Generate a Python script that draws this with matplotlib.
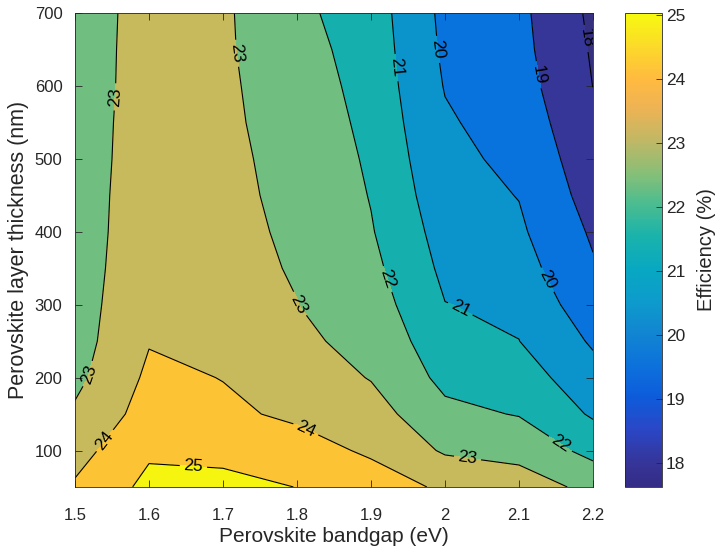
import numpy as np
import matplotlib
matplotlib.use("Agg")
import matplotlib.pyplot as plt
from matplotlib.colors import LinearSegmentedColormap, Normalize
from matplotlib.cm import ScalarMappable
from matplotlib.ticker import FormatStrFormatter

plt.rcParams['font.family'] = ['Liberation Sans', 'DejaVu Sans']

# perovskite bandgap (eV) and layer thickness (nm) grid
bandgap = [1.5, 1.6, 1.7, 1.8, 1.9, 2.0, 2.1, 2.2]
thickness = [50, 100, 150, 200, 250, 300, 350, 400, 450, 500, 550, 600, 650, 700]

# efficiency (%), one row per thickness
efficiency = [
    [24.12, 25.25, 25.20, 24.99, 24.40, 23.87, 23.47, 22.75],
    [23.63, 24.86, 24.81, 24.33, 23.88, 22.88, 22.69, 21.70],
    [23.15, 24.40, 24.15, 23.86, 23.42, 22.24, 21.95, 20.88],
    [22.75, 24.18, 23.98, 23.57, 22.95, 21.75, 21.49, 20.35],
    [22.59, 23.95, 23.65, 23.19, 22.70, 21.40, 21.01, 19.88],
    [22.52, 23.85, 23.30, 23.01, 22.50, 21.02, 20.83, 19.35],
    [22.44, 23.80, 23.20, 22.95, 22.26, 20.79, 20.40, 19.10],
    [22.39, 23.75, 23.12, 22.93, 22.07, 20.60, 20.15, 18.87],
    [22.38, 23.70, 23.05, 22.95, 21.95, 20.39, 19.97, 18.60],
    [22.35, 23.65, 23.07, 22.90, 21.83, 20.23, 19.79, 18.38],
    [22.35, 23.60, 23.09, 22.80, 21.69, 20.12, 19.54, 18.25],
    [22.33, 23.55, 23.14, 22.57, 21.62, 19.95, 19.41, 17.99],
    [22.36, 23.50, 23.13, 22.40, 21.55, 19.83, 19.29, 17.90],
    [22.38, 23.45, 23.14, 22.23, 21.48, 19.76, 19.23, 17.80],
]

line_levels = [18, 19, 20, 21, 22, 23, 24, 25]
cbar_ticks = [18, 19, 20, 21, 22, 23, 24, 25]

# parula-like colours, as they appear in the picture
band_colors = ['#35307f', '#363699', '#0873dd', '#0b94cc', '#15b0ad',
               '#70be80', '#c7ba5c', '#fcc434', '#f5f50f']
cbar_anchors = [
    (0.00, '#342c86'), (0.05, '#363599'), (0.12, '#2a47c6'), (0.19, '#0d5cdb'),
    (0.26, '#0d73db'), (0.33, '#1287d1'), (0.39, '#0d9bcc'), (0.46, '#08a8c2'),
    (0.53, '#1ab3ab'), (0.60, '#4dbd8f'), (0.66, '#85bf78'), (0.73, '#bfb866'),
    (0.80, '#edb354'), (0.86, '#ffba40'), (0.93, '#fcd92a'), (1.00, '#f7fa0f'),
]
parula_like = LinearSegmentedColormap.from_list('parula_like', cbar_anchors)

X, Y = np.meshgrid(bandgap, thickness)
Z = np.array(efficiency)

fig = plt.figure(figsize=(7.17, 5.52), dpi=100)
ax = fig.add_axes([0.1046, 0.1178, 0.7225, 0.8586])
cax = fig.add_axes([0.872, 0.1178, 0.051, 0.8586])

fill_levels = [Z.min() - 0.5] + line_levels + [Z.max() + 0.5]
ax.contourf(X, Y, Z, levels=fill_levels, colors=band_colors)
cs = ax.contour(X, Y, Z, levels=line_levels, colors='k', linewidths=0.8)

label_pos = [(1.554, 585), (1.72, 645), (1.933, 625), (1.99, 650),
             (2.124, 615), (2.19, 665), (1.922, 335), (1.80, 300),
             (2.02, 293), (2.14, 335), (1.518, 205), (1.545, 110),
             (1.66, 78), (1.81, 125), (2.03, 87), (2.15, 100)]
ax.clabel(cs, fmt='%d', fontsize=12.5, inline=True, inline_spacing=4,
          manual=label_pos)

ax.set_xlim(1.5, 2.2)
ax.set_ylim(50, 700)
ax.set_xticks(bandgap)
ax.set_yticks([100, 200, 300, 400, 500, 600, 700])
ax.xaxis.set_major_formatter(FormatStrFormatter('%g'))
ax.tick_params(direction='in', length=5, width=0.6, top=True, right=True,
               labelsize=12, colors='0.15')
ax.tick_params(axis='x', pad=15)
ax.tick_params(axis='y', pad=9)
for s in ax.spines.values():
    s.set_color('0.15')
    s.set_linewidth(0.6)
ax.set_xlabel('Perovskite bandgap (eV)', fontsize=15, color='0.15', labelpad=3)
ax.set_ylabel('Perovskite layer thickness (nm)', fontsize=15.5, color='0.15',
              labelpad=4)

norm = Normalize(17.63, 25.03)
cb = fig.colorbar(ScalarMappable(norm=norm, cmap=parula_like), cax=cax)
cb.set_ticks(cbar_ticks)
cb.ax.tick_params(direction='in', length=4, width=0.6, labelsize=12.5,
                  colors='0.15', pad=3)
cb.outline.set_edgecolor('0.15')
cb.outline.set_linewidth(0.6)
cb.set_label('Efficiency (%)', fontsize=14.5, color='0.15', labelpad=8)

fig.savefig('out.png', dpi=100)
